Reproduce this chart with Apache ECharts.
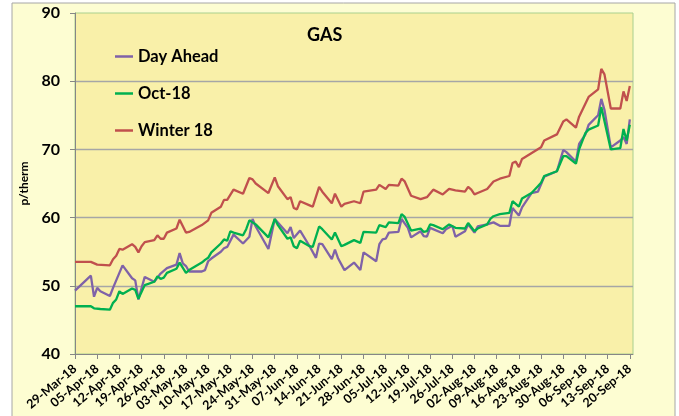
<!DOCTYPE html>
<html>
<head>
<meta charset="utf-8">
<script src="https://cdn.jsdelivr.net/npm/echarts@6/dist/echarts.min.js"></script>
<style>
html,body{margin:0;padding:0;background:#fff;}
#chart{width:679px;height:416px;}
</style>
</head>
<body>
<div id="chart"></div>
<script>
// ---- data ----
const startDate = '2018-03-29';
const tickLabels = ['29-Mar-18','05-Apr-18','12-Apr-18','19-Apr-18','26-Apr-18','03-May-18','10-May-18','17-May-18','24-May-18','31-May-18','07-Jun-18','14-Jun-18','21-Jun-18','28-Jun-18','05-Jul-18','12-Jul-18','19-Jul-18','26-Jul-18','02-Aug-18','09-Aug-18','16-Aug-18','23-Aug-18','30-Aug-18','06-Sep-18','13-Sep-18','20-Sep-18'];
const seriesNames = ['Day Ahead','Oct-18','Winter 18'];

const dayAheadDates = ['2018-03-29','2018-04-03','2018-04-04','2018-04-05','2018-04-06','2018-04-09','2018-04-10','2018-04-13','2018-04-16','2018-04-17','2018-04-18','2018-04-20','2018-04-23','2018-04-24','2018-04-25','2018-04-27','2018-04-30','2018-05-01','2018-05-02','2018-05-03','2018-05-04','2018-05-08','2018-05-09','2018-05-10','2018-05-11','2018-05-14','2018-05-15','2018-05-16','2018-05-18','2018-05-21','2018-05-23','2018-05-24','2018-05-25','2018-05-29','2018-05-31','2018-06-04','2018-06-05','2018-06-06','2018-06-08','2018-06-11','2018-06-13','2018-06-14','2018-06-15','2018-06-18','2018-06-19','2018-06-20','2018-06-22','2018-06-25','2018-06-27','2018-06-28','2018-07-02','2018-07-03','2018-07-04','2018-07-05','2018-07-06','2018-07-09','2018-07-10','2018-07-12','2018-07-13','2018-07-16','2018-07-17','2018-07-18','2018-07-19','2018-07-23','2018-07-24','2018-07-26','2018-07-27','2018-07-30','2018-07-31','2018-08-02','2018-08-03','2018-08-06','2018-08-08','2018-08-10','2018-08-13','2018-08-14','2018-08-16','2018-08-17','2018-08-20','2018-08-22','2018-08-24','2018-08-28','2018-08-30','2018-08-31','2018-09-03','2018-09-04','2018-09-06','2018-09-07','2018-09-10','2018-09-11','2018-09-12','2018-09-14','2018-09-17','2018-09-18','2018-09-19','2018-09-20'];
const dayAheadValues = [49.3,51.5,48.4,49.7,49.2,48.5,49.7,53.0,51.1,50.8,48.0,51.3,50.6,51.2,51.8,52.6,53.1,54.8,53.3,52.9,52.1,52.1,52.3,53.6,54.0,55.0,55.5,55.7,57.5,56.2,57.2,59.8,58.7,55.4,59.8,57.7,58.6,57.0,58.1,55.8,54.1,56.2,56.1,53.9,55.3,54.0,52.3,53.4,52.3,54.9,53.6,56.1,56.8,56.9,57.8,57.9,59.8,58.5,57.1,58.0,57.3,57.2,58.5,57.7,58.3,58.8,57.2,58.0,59.0,57.8,58.7,59.0,59.3,58.8,58.8,61.4,60.3,61.5,63.6,63.8,66.0,66.8,69.9,69.6,68.2,70.8,72.2,73.6,75.0,77.4,75.8,70.3,71.3,71.8,70.8,74.4];

const oct18Dates = ['2018-03-29','2018-04-03','2018-04-04','2018-04-06','2018-04-09','2018-04-10','2018-04-11','2018-04-12','2018-04-13','2018-04-16','2018-04-17','2018-04-18','2018-04-20','2018-04-23','2018-04-24','2018-04-25','2018-04-26','2018-04-27','2018-04-30','2018-05-01','2018-05-03','2018-05-04','2018-05-08','2018-05-09','2018-05-10','2018-05-11','2018-05-14','2018-05-15','2018-05-16','2018-05-17','2018-05-18','2018-05-21','2018-05-22','2018-05-23','2018-05-24','2018-05-25','2018-05-29','2018-05-31','2018-06-01','2018-06-04','2018-06-05','2018-06-06','2018-06-07','2018-06-08','2018-06-11','2018-06-12','2018-06-14','2018-06-15','2018-06-18','2018-06-19','2018-06-21','2018-06-22','2018-06-25','2018-06-27','2018-06-28','2018-07-02','2018-07-03','2018-07-05','2018-07-06','2018-07-09','2018-07-10','2018-07-11','2018-07-13','2018-07-16','2018-07-17','2018-07-18','2018-07-19','2018-07-20','2018-07-23','2018-07-25','2018-07-27','2018-07-30','2018-07-31','2018-08-02','2018-08-03','2018-08-06','2018-08-07','2018-08-08','2018-08-10','2018-08-13','2018-08-14','2018-08-16','2018-08-17','2018-08-20','2018-08-22','2018-08-23','2018-08-24','2018-08-28','2018-08-30','2018-08-31','2018-09-03','2018-09-04','2018-09-06','2018-09-07','2018-09-10','2018-09-11','2018-09-14','2018-09-17','2018-09-18','2018-09-19','2018-09-20'];
const oct18Values = [47.0,47.0,46.7,46.6,46.5,47.5,48.0,49.2,48.8,49.6,49.4,48.1,50.1,50.6,51.4,51.0,51.2,51.9,52.5,53.4,51.9,52.3,53.4,53.8,54.1,54.9,56.2,56.8,56.6,58.0,57.8,57.4,58.3,59.6,59.3,59.0,57.1,59.8,58.9,56.9,57.1,55.8,55.5,56.6,55.8,55.7,58.7,58.3,56.8,57.8,55.8,56.0,56.7,56.3,57.9,57.8,58.9,58.6,59.3,59.2,60.5,60.1,58.1,58.4,57.9,58.0,59.0,58.9,58.3,59.0,58.5,58.4,59.2,58.0,58.4,59.0,59.8,60.2,60.5,60.7,62.4,61.6,62.8,63.6,64.6,65.1,66.1,66.8,69.0,69.0,67.9,70.0,72.4,72.9,73.5,76.2,70.0,70.2,73.0,71.3,73.6];

const winter18Dates = ['2018-03-29','2018-04-03','2018-04-05','2018-04-09','2018-04-10','2018-04-11','2018-04-12','2018-04-13','2018-04-16','2018-04-17','2018-04-18','2018-04-19','2018-04-20','2018-04-23','2018-04-24','2018-04-25','2018-04-26','2018-04-27','2018-04-30','2018-05-01','2018-05-03','2018-05-04','2018-05-08','2018-05-10','2018-05-11','2018-05-14','2018-05-15','2018-05-16','2018-05-18','2018-05-21','2018-05-23','2018-05-24','2018-05-25','2018-05-29','2018-05-31','2018-06-01','2018-06-04','2018-06-05','2018-06-06','2018-06-07','2018-06-08','2018-06-11','2018-06-12','2018-06-14','2018-06-15','2018-06-18','2018-06-19','2018-06-21','2018-06-22','2018-06-25','2018-06-27','2018-06-28','2018-07-02','2018-07-03','2018-07-05','2018-07-06','2018-07-09','2018-07-10','2018-07-11','2018-07-13','2018-07-16','2018-07-18','2018-07-20','2018-07-23','2018-07-25','2018-07-27','2018-07-30','2018-07-31','2018-08-01','2018-08-02','2018-08-03','2018-08-06','2018-08-08','2018-08-10','2018-08-13','2018-08-14','2018-08-15','2018-08-16','2018-08-17','2018-08-23','2018-08-24','2018-08-28','2018-08-30','2018-08-31','2018-09-03','2018-09-04','2018-09-07','2018-09-10','2018-09-11','2018-09-12','2018-09-14','2018-09-17','2018-09-18','2018-09-19','2018-09-20'];
const winter18Values = [53.5,53.5,53.1,53.0,53.9,54.4,55.4,55.3,56.1,55.7,54.9,55.8,56.4,56.7,57.4,56.9,56.9,57.8,58.4,59.7,57.8,57.9,58.9,59.6,60.7,61.6,62.6,62.6,64.1,63.5,65.8,65.6,65.0,63.6,65.9,64.6,62.7,63.0,61.4,61.2,62.4,61.8,61.6,64.5,63.8,62.1,63.5,61.6,62.0,62.4,62.1,63.8,64.1,64.8,64.2,64.8,64.7,65.7,65.3,63.2,62.7,63.0,64.1,63.4,64.2,64.0,63.8,64.5,64.1,63.4,63.6,64.2,65.3,65.7,66.1,68.0,68.2,67.4,68.6,70.3,71.3,72.2,74.1,74.4,73.2,74.8,77.7,78.8,81.8,81.0,76.0,76.0,78.5,77.1,79.3];

// ---- build ----
const DAY = 86400000;
const t0 = Date.parse(startDate + 'T00:00:00Z');
function dayOf(s){ return Math.round((Date.parse(s + 'T00:00:00Z') - t0) / DAY); }
function pairs(dates, vals){ return dates.map((d,i)=>[dayOf(d), vals[i]]); }
const tickDays = tickLabels.map((_, i) => i * 7);
const lastDay = dayOf('2018-09-21');

const FONT = 'Lato';
const chart = echarts.init(document.getElementById('chart'), null, {renderer:'canvas'});
const mk = (name, data, color) => ({
  name, type:'line', data, symbol:'none', showSymbol:false,
  lineStyle:{color, width:2.3}, itemStyle:{color}, animation:false
});
chart.setOption({
  backgroundColor:'#ffffff',
  animation:false,
  graphic:[{type:'rect', shape:{x:12,y:3,width:663,height:440}, style:{fill:'#FDFDD2', stroke:'#A6A6A6', lineWidth:1}, z:-10, silent:true}],
  title:{text:'GAS', left:302, top:21, textStyle:{fontFamily:FONT, fontWeight:'bold', fontSize:18, color:'#000'}},
  legend:{orient:'vertical', left:110, top:42, itemGap:18, itemWidth:18, itemHeight:2.5, icon:'rect',
    textStyle:{fontFamily:FONT, fontWeight:'bold', fontSize:16.5, color:'#000', lineHeight:19},
    data:seriesNames},
  grid:{left:75, right:46, top:13, bottom:62, show:true, backgroundColor:'#F9F0A9', borderColor:'#A9D08E', borderWidth:1},
  xAxis:{type:'value', min:0, max:lastDay, interval:7,
    axisLine:{lineStyle:{color:'#868686', width:1}},
    axisTick:{show:true, length:5, inside:false, lineStyle:{color:'#868686'}, customValues:tickDays},
    axisLabel:{rotate:40, margin:13, fontFamily:FONT, fontWeight:'bold', fontSize:12.5, color:'#000',
      customValues:tickDays, formatter:(v)=>tickLabels[Math.round(v/7)] || ''},
    splitLine:{show:false}},
  yAxis:{type:'value', min:40, max:90, interval:10, name:'p/therm', nameLocation:'middle', nameGap:44, nameRotate:90,
    nameTextStyle:{fontFamily:FONT, fontWeight:'bold', fontSize:12, color:'#000'},
    axisLine:{show:true, lineStyle:{color:'#868686'}},
    axisTick:{show:true, length:5, lineStyle:{color:'#868686'}},
    axisLabel:{margin:15, fontFamily:FONT, fontWeight:'bold', fontSize:16, color:'#000'},
    splitLine:{show:true, showMinLine:false, showMaxLine:false, lineStyle:{color:'#A6A6A6', width:1.3}}},
  series:[
    mk(seriesNames[0], pairs(dayAheadDates, dayAheadValues), '#7F62A8'),
    mk(seriesNames[1], pairs(oct18Dates, oct18Values), '#00B050'),
    mk(seriesNames[2], pairs(winter18Dates, winter18Values), '#C0504D')
  ]
});
</script>
</body>
</html>
